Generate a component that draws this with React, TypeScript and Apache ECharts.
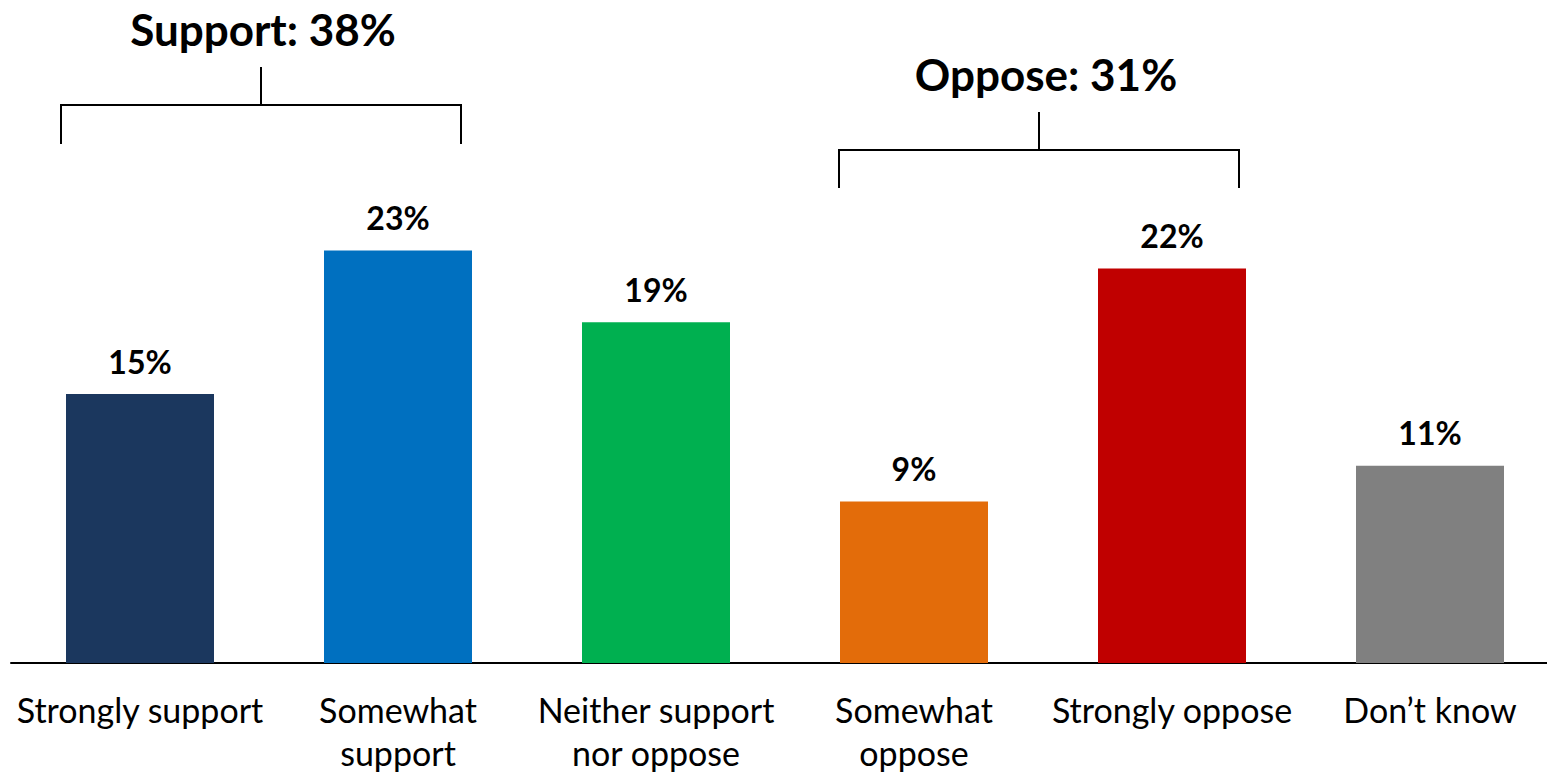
import React, { useEffect, useRef } from "react";
import * as echarts from "echarts";

const categories = [
  "Strongly support",
  "Somewhat\nsupport",
  "Neither support\nnor oppose",
  "Somewhat\noppose",
  "Strongly oppose",
  "Don\u2019t know",
];
const values = [15, 23, 19, 9, 22, 11];
const barColors = ["#1B375E", "#0070C0", "#00B050", "#E36C0A", "#C00000", "#808080"];
const groupTitles = ["Support: 38%", "Oppose: 31%"];

const FONT = "Lato, 'Noto Sans', sans-serif";

export default function App() {
  const ref = useRef<HTMLDivElement>(null);
  useEffect(() => {
    if (!ref.current) return;
    const chart = echarts.init(ref.current, null, { renderer: "svg" });
    const lineStyle = { stroke: "#000", lineWidth: 2 };
    const bracket = (left: number, right: number, y: number, drop: number, stemTop: number) => [
      { type: "line", shape: { x1: left, y1: y, x2: right, y2: y }, style: lineStyle },
      { type: "line", shape: { x1: left, y1: y - 1, x2: left, y2: drop }, style: lineStyle },
      { type: "line", shape: { x1: right, y1: y - 1, x2: right, y2: drop }, style: lineStyle },
      { type: "line", shape: { x1: (left + right) / 2, y1: y, x2: (left + right) / 2, y2: stemTop }, style: lineStyle },
    ];
    chart.setOption({
      animation: false,
      grid: {
        left: 11,
        top: 125,
        right: -12,
        bottom: 112,
        containLabel: false,
        outerBoundsMode: "none",
      },
      xAxis: {
        type: "category",
        data: categories,
        axisLine: { show: true, lineStyle: { color: "#000", width: 2 } },
        axisTick: { show: false },
        axisLabel: {
          interval: 0,
          color: "#000",
          fontFamily: FONT,
          fontSize: 34,
          lineHeight: 43,
          margin: 25,
        },
      },
      yAxis: { type: "value", min: 0, max: 30, show: false, splitLine: { show: false } },
      series: [
        {
          type: "bar",
          barWidth: 148,
          data: values.map((v, i) => ({ value: v, itemStyle: { color: barColors[i] } })),
          label: {
            show: true,
            position: "top",
            distance: 17,
            formatter: "{c}%",
            color: "#000",
            fontFamily: FONT,
            fontWeight: "bold",
            fontSize: 32,
          },
        },
      ],
    });
    const base = chart.convertToPixel({ gridIndex: 0 }, [0, 0]) as number[];
    chart.setOption({
      graphic: [
        { type: "line", shape: { x1: 11, y1: base[1], x2: 1547, y2: base[1] }, style: lineStyle },
        ...bracket(61, 461, 105, 144, 67),
        ...bracket(839, 1239, 150, 188, 112),
        {
          type: "text",
          x: 263,
          y: 29,
          style: {
            text: groupTitles[0],
            font: `bold 44px ${FONT}`,
            fill: "#000",
            align: "center",
            verticalAlign: "middle",
          },
        },
        {
          type: "text",
          x: 1046,
          y: 74,
          style: {
            text: groupTitles[1],
            font: `bold 44px ${FONT}`,
            fill: "#000",
            align: "center",
            verticalAlign: "middle",
          },
        },
      ],
    });
    return () => chart.dispose();
  }, []);
  return (
    <div
      ref={ref}
      style={{ position: "absolute", left: 0, top: 0, width: 1547, height: 775, background: "#fff" }}
    />
  );
}
